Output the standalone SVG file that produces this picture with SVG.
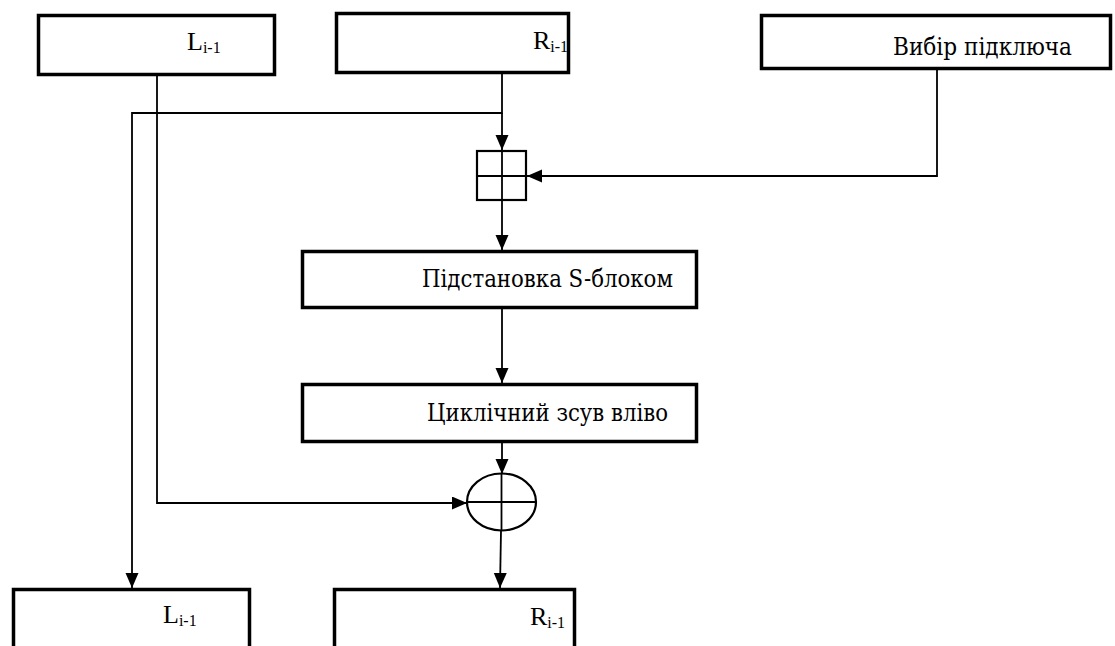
<svg xmlns="http://www.w3.org/2000/svg" width="1115" height="646" viewBox="0 0 1115 646">
  <style>
    .box { fill: #fff; stroke: #000; stroke-width: 3.5; }
    .op { fill: #fff; stroke: #000; stroke-width: 2.2; }
    .wire { fill: none; stroke: #000; stroke-width: 1.8; }
    .lbl { font-family: "Liberation Serif", "DejaVu Serif", serif; font-size: 26px; fill: #000; }
    .cyr { font-family: "DejaVu Serif", "Liberation Serif", serif; font-size: 24px; }
    .sub { font-size: 16px; }
  </style>
  <defs>
    <marker id="arrow" markerUnits="userSpaceOnUse" markerWidth="16" markerHeight="14" refX="15" refY="6.5" orient="auto">
      <path d="M0,0 L15,6.5 L0,13 Z" fill="#000"/>
    </marker>
  </defs>
  <rect width="1115" height="646" fill="#fff"/>

  <g id="connectors">
    <!-- L(i-1) feeds the XOR stage -->
    <polyline class="wire" points="157,76 157,503 467,503" marker-end="url(#arrow)"/>
    <!-- R(i-1) trunk and its copy to the new L -->
    <polyline class="wire" points="502,74 502,113 132,113 132,588" marker-end="url(#arrow)"/>
    <line class="wire" x1="502" y1="113" x2="502" y2="150" marker-end="url(#arrow)"/>
    <!-- subkey into the adder -->
    <polyline class="wire" points="937,70 937,176 527,176" marker-end="url(#arrow)"/>
    <line class="wire" x1="502" y1="201" x2="502" y2="250" marker-end="url(#arrow)"/>
    <line class="wire" x1="502" y1="309" x2="502" y2="383" marker-end="url(#arrow)"/>
    <line class="wire" x1="502" y1="443" x2="502" y2="474" marker-end="url(#arrow)"/>
    <line class="wire" x1="501" y1="531" x2="500" y2="588" marker-end="url(#arrow)"/>
  </g>

  <g id="node-l-in">
    <rect class="box" x="38.5" y="15.5" width="236" height="59"/>
    <text class="lbl" x="187" y="50">L<tspan class="sub" dy="3">i-1</tspan></text>
  </g>

  <g id="node-r-in">
    <rect class="box" x="336.5" y="13.5" width="232" height="59"/>
    <text class="lbl" x="533" y="49">R<tspan class="sub" dy="3">i-1</tspan></text>
  </g>

  <g id="node-subkey">
    <rect class="box" x="761.5" y="15.5" width="349" height="53"/>
    <text class="lbl cyr" x="893" y="55" textLength="179" lengthAdjust="spacingAndGlyphs">Вибір підключа</text>
  </g>

  <g id="node-adder">
    <rect class="op" x="477" y="151" width="49" height="49"/>
    <line class="wire" x1="502" y1="151" x2="502" y2="200"/>
    <line class="wire" x1="477" y1="176" x2="526" y2="176"/>
  </g>

  <g id="node-sbox">
    <rect class="box" x="302.5" y="251.5" width="394" height="56"/>
    <text class="lbl cyr" x="422" y="287" textLength="251" lengthAdjust="spacingAndGlyphs">Підстановка S-блоком</text>
  </g>

  <g id="node-shift">
    <rect class="box" x="302.5" y="384.5" width="394" height="57"/>
    <text class="lbl cyr" x="427" y="421" textLength="241" lengthAdjust="spacingAndGlyphs">Циклічний зсув вліво</text>
  </g>

  <g id="node-xor">
    <ellipse class="op" cx="501.5" cy="502" rx="34.5" ry="28.5"/>
    <line class="wire" x1="501.5" y1="473.5" x2="501.5" y2="530.5"/>
    <line class="wire" x1="467" y1="502" x2="536" y2="502"/>
  </g>

  <g id="node-l-out">
    <rect class="box" x="13.5" y="589.5" width="236" height="80"/>
    <text class="lbl" x="163" y="623">L<tspan class="sub" dy="3">i-1</tspan></text>
  </g>

  <g id="node-r-out">
    <rect class="box" x="334.5" y="589.5" width="240" height="80"/>
    <text class="lbl" x="530" y="625">R<tspan class="sub" dy="3">i-1</tspan></text>
  </g>
</svg>
